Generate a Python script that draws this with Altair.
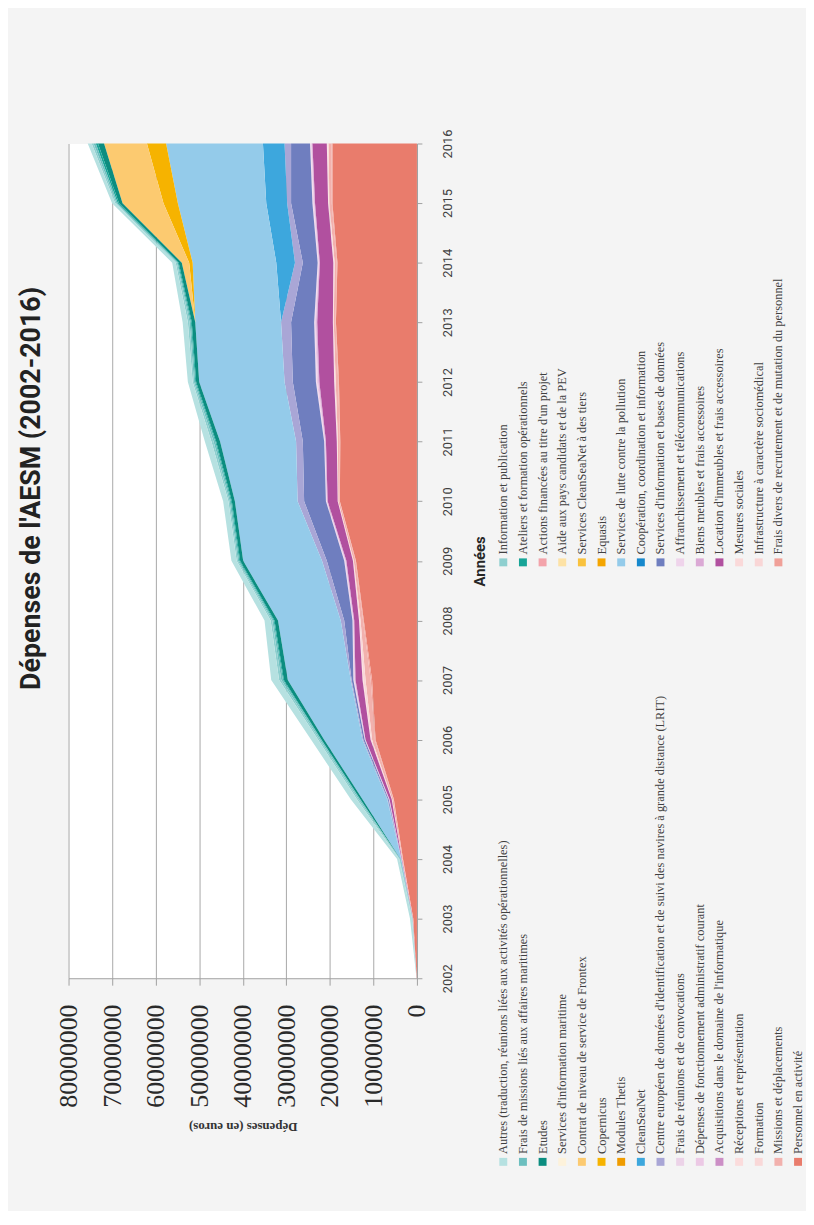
import altair as alt
import pandas as pd

years = list(range(2002, 2017))
xticks = [0, 10000000, 20000000, 30000000, 40000000, 50000000, 60000000, 70000000, 80000000]

# Expenses per heading, millions of euros, 2002..2016
personnel = [0.05, 0.85, 3.2, 5.3, 9.5, 10.3, 12.2, 14.0, 17.7, 17.6, 17.9, 18.6, 18.25, 19.4, 19.4]
frais_divers = [0.005, 0.02, 0.04, 0.08, 0.15, 0.3, 0.15, 0.1, 0.06, 0.1, 0.15, 0.1, 0.15, 0.15, 0.2]
missions = [0.01, 0.06, 0.15, 0.3, 0.65, 1.2, 0.6, 0.4, 0.3, 0.45, 0.6, 0.4, 0.5, 0.55, 0.7]
infrastructure = [0, 0, 0, 0, 0, 0, 0, 0, 0, 0, 0, 0, 0, 0, 0]
formation = [0.005, 0.02, 0.04, 0.08, 0.25, 0.5, 0.25, 0.15, 0.1, 0.15, 0.25, 0.15, 0.2, 0.2, 0.25]
mesures_sociales = [0, 0, 0, 0, 0, 0, 0, 0, 0, 0, 0, 0, 0, 0, 0]
receptions = [0, 0, 0.02, 0.04, 0.1, 0.2, 0.1, 0.05, 0.04, 0.1, 0.1, 0.05, 0.1, 0.1, 0.15]
location = [0.01, 0.05, 0.1, 0.5, 1.15, 1.6, 1.1, 1.5, 2.3, 2.5, 3.4, 3.6, 3.1, 3.0, 3.3]
acquisitions = [0, 0, 0.01, 0.05, 0.05, 0.1, 0.1, 0.1, 0.1, 0.1, 0.15, 0.15, 0.1, 0.1, 0.1]
biens_meubles = [0, 0, 0.01, 0.05, 0.05, 0.1, 0.1, 0.1, 0.1, 0.1, 0.15, 0.15, 0.1, 0.1, 0.1]
depenses_fonct = [0, 0, 0.02, 0.05, 0.05, 0.15, 0.1, 0.15, 0.1, 0.1, 0.25, 0.2, 0.15, 0.2, 0.15]
affranchissement = [0, 0, 0.01, 0.03, 0.03, 0.1, 0.05, 0.1, 0.05, 0.05, 0.15, 0.1, 0.1, 0.1, 0.1]
frais_reunions = [0, 0, 0, 0.02, 0.02, 0.05, 0.05, 0.05, 0.05, 0.05, 0.1, 0.1, 0.05, 0.1, 0.1]
services_info_bd = [0, 0, 0, 0.2, 0.3, 0.4, 1.9, 4.0, 5.0, 4.9, 5.3, 5.3, 3.4, 4.9, 4.35]
lrit = [0, 0, 0, 0.14, 0.2, 0.2, 0.8, 1.1, 1.5, 1.55, 1.9, 2.3, 1.8, 0.9, 1.5]
cooperation = [0, 0, 0, 0, 0, 0, 0, 0, 0, 0, 0, 0, 0, 0, 0]
cleanseanet = [0, 0, 0, 0, 0, 0, 0, 0, 0, 0, 0, 0, 4.3, 4.8, 4.96]
lutte_pollution = [0, 0, 0.2, 5.66, 8.8, 14.45, 14.4, 18.1, 14.4, 17.45, 19.6, 19.7, 19.2, 20.3, 22.24]
thetis = [0, 0, 0, 0, 0, 0, 0, 0, 0, 0, 0, 0, 0, 0, 0]
equasis = [0, 0, 0, 0, 0, 0, 0, 0, 0, 0, 0, 0, 0, 0, 0]
copernicus = [0, 0, 0, 0, 0, 0, 0, 0, 0, 0, 0, 0, 0.8, 3.3, 4.4]
csn_tiers = [0, 0, 0, 0, 0, 0, 0, 0, 0, 0, 0, 0, 0, 0, 0]
frontex = [0, 0, 0, 0, 0, 0, 0, 0, 0, 0, 0, 0, 1.7, 9.4, 9.85]
aide_pays = [0, 0, 0, 0, 0, 0, 0, 0, 0, 0, 0, 0, 0, 0, 0]
info_maritime = [0, 0, 0, 0, 0, 0, 0, 0, 0, 0, 0, 0, 0, 0, 0]
actions_projet = [0, 0, 0, 0, 0, 0, 0, 0, 0, 0, 0, 0, 0, 0, 0]
etudes = [0, 0, 0.05, 0.5, 0.6, 0.9, 0.8, 0.7, 0.7, 0.9, 0.7, 0.8, 0.7, 0.8, 1.4]
ateliers = [0, 0, 0, 0.1, 0.1, 0.2, 0.2, 0.2, 0.2, 0.2, 0.2, 0.2, 0.2, 0.3, 0.5]
frais_missions = [0, 0.05, 0.1, 0.3, 0.3, 0.4, 0.3, 0.3, 0.3, 0.4, 0.3, 0.3, 0.2, 0.3, 0.5]
info_pub = [0, 0.05, 0.11, 0.4, 0.4, 0.5, 0.4, 0.3, 0.3, 0.5, 0.3, 0.4, 0.3, 0.3, 0.45]
autres = [0.02, 0.5, 0.5, 1.4, 1.6, 1.81, 1.4, 1.2, 1.2, 1.5, 1.1, 1.2, 0.8, 0.7, 0.9]

N_AUTRES = "Autres (traduction, réunions liées aux activités opérationnelles)"
N_FMISS = "Frais de missions liés aux affaires maritimes"
N_ETUDES = "Etudes"
N_INFOMAR = "Services d'information maritime"
N_FRONTEX = "Contrat de niveau de service de Frontex"
N_COPER = "Copernicus"
N_THETIS = "Modules Thetis"
N_CSN = "CleanSeaNet"
N_LRIT = "Centre européen de données d'identification et de suivi des navires à grande distance (LRIT)"
N_REUN = "Frais de réunions et de convocations"
N_DEPF = "Dépenses de fonctionnement administratif courant"
N_ACQ = "Acquisitions dans le domaine de l'informatique"
N_RECEP = "Réceptions et représentation"
N_FORM = "Formation"
N_MISS = "Missions et déplacements"
N_PERS = "Personnel en activité"
N_INFOPUB = "Information et publication"
N_ATEL = "Ateliers et formation opérationnels"
N_ACTP = "Actions financées au titre d'un projet"
N_AIDE = "Aide aux pays candidats et de la PEV"
N_CSNT = "Services CleanSeaNet à des tiers"
N_EQUA = "Equasis"
N_LUTTE = "Services de lutte contre la pollution"
N_COOP = "Coopération, coordination et information"
N_SIBD = "Services d'information et bases de données"
N_AFFR = "Affranchissement et télécommunications"
N_BIENS = "Biens meubles et frais accessoires"
N_LOC = "Location d'immeubles et frais accessoires"
N_MESS = "Mesures sociales"
N_INFRA = "Infrastructure à caractère sociomédical"
N_FDIV = "Frais divers de recrutement et de mutation du personnel"

# stack order, from the baseline outwards
series = [
    (N_PERS, personnel, "#e97c6c"),
    (N_FDIV, frais_divers, "#f0a098"),
    (N_MISS, missions, "#f2b1ad"),
    (N_INFRA, infrastructure, "#f9d6d6"),
    (N_FORM, formation, "#f9d8d8"),
    (N_MESS, mesures_sociales, "#fad9d9"),
    (N_RECEP, receptions, "#fbdcdc"),
    (N_LOC, location, "#b1509f"),
    (N_ACQ, acquisitions, "#cc8fc6"),
    (N_BIENS, biens_meubles, "#dba9d5"),
    (N_DEPF, depenses_fonct, "#ecc9e5"),
    (N_AFFR, affranchissement, "#efd4eb"),
    (N_REUN, frais_reunions, "#ecd3e8"),
    (N_SIBD, services_info_bd, "#6f7ebf"),
    (N_LRIT, lrit, "#a9a6d6"),
    (N_COOP, cooperation, "#1688cc"),
    (N_CSN, cleanseanet, "#3da7dd"),
    (N_LUTTE, lutte_pollution, "#94cbea"),
    (N_THETIS, thetis, "#ef9c00"),
    (N_EQUA, equasis, "#f4a500"),
    (N_COPER, copernicus, "#f6b300"),
    (N_CSNT, csn_tiers, "#f9c23d"),
    (N_FRONTEX, frontex, "#fcca70"),
    (N_AIDE, aide_pays, "#fde2a5"),
    (N_INFOMAR, info_maritime, "#fdf2db"),
    (N_ACTP, actions_projet, "#f3a3aa"),
    (N_ETUDES, etudes, "#0b8d80"),
    (N_ATEL, ateliers, "#17a497"),
    (N_FMISS, frais_missions, "#6cbfbf"),
    (N_INFOPUB, info_pub, "#8ecfcf"),
    (N_AUTRES, autres, "#b6e1e1"),
]

legend_col_bas = [N_AUTRES, N_FMISS, N_ETUDES, N_INFOMAR, N_FRONTEX, N_COPER, N_THETIS, N_CSN,
                  N_LRIT, N_REUN, N_DEPF, N_ACQ, N_RECEP, N_FORM, N_MISS, N_PERS]
legend_col_haut = [N_INFOPUB, N_ATEL, N_ACTP, N_AIDE, N_CSNT, N_EQUA, N_LUTTE, N_COOP, N_SIBD,
                   N_AFFR, N_BIENS, N_LOC, N_MESS, N_INFRA, N_FDIV]

rows = []
for k, (name, vals, col) in enumerate(series):
    for yr, v in zip(years, vals):
        rows.append({"annee": yr, "serie": name, "valeur": v * 1e6, "ordre": k})
df = pd.DataFrame(rows)

leg_rows = []
for i, n in enumerate(legend_col_haut):
    leg_rows.append({"serie": n, "pos": i, "rang": 0})
for i, n in enumerate(legend_col_bas):
    leg_rows.append({"serie": n, "pos": i, "rang": 1})
leg = pd.DataFrame(leg_rows)

names = [s[0] for s in series]
colors = [s[2] for s in series]
color_scale = alt.Scale(domain=names, range=colors)

COND = "Roboto, Liberation Sans Narrow, sans-serif"
SERIF = "Liberation Serif, Times New Roman, serif"

area = alt.Chart(df).mark_area(orient="horizontal", interpolate="linear").encode(
    x=alt.X(
        "valeur:Q", stack="zero",
        scale=alt.Scale(domain=[0, 80000000], reverse=True, nice=False),
        axis=alt.Axis(
            values=xticks, format="d", labelAngle=270, labelAlign="right", labelBaseline="middle",
            labelFont=SERIF, labelFontSize=26, labelColor="#2a2a2a", labelPadding=19,
            labelFlush=False, labelOverlap=False,
            tickSize=7, tickColor="#a0a0a0", domainColor="#a0a0a0",
            grid=True, gridColor="#a8a8a8", gridWidth=1,
            title="Dépenses (en euros)", titleAngle=180, titleFont=SERIF, titleFontSize=13,
            titleFontWeight="bold", titleColor="#333333", titleY=149, titleBaseline="middle",
        ),
    ),
    y=alt.Y(
        "annee:Q",
        scale=alt.Scale(domain=[2002, 2016], nice=False, zero=False),
        axis=alt.Axis(
            orient="right", values=years, format="d", labelAngle=270, labelAlign="center",
            labelBaseline="top", labelFont=COND, labelFontSize=13, labelColor="#404040",
            labelPadding=20, labelFlush=False, labelOverlap=False,
            tickSize=5, tickColor="#a0a0a0", domainColor="#a0a0a0", grid=False,
            title="Années", titleAngle=270, titleX=63, titleBaseline="middle", titleFont=COND,
            titleFontSize=15, titleFontWeight="bold", titleColor="#262626",
        ),
    ),
    color=alt.Color("serie:N", scale=color_scale, legend=None),
    order=alt.Order("ordre:Q", sort="ascending"),
)

leg_x = alt.X("pos:Q", scale=alt.Scale(domain=[0, 15], range=[438, 735]), axis=None)
leg_y = alt.Y("rang:Q", scale=alt.Scale(domain=[0, 1], range=[422, 1026]), axis=None)

squares = alt.Chart(leg).mark_square(size=64, opacity=1).encode(
    x=leg_x, y=leg_y,
    color=alt.Color("serie:N", scale=color_scale, legend=None),
)
labels = alt.Chart(leg).mark_text(
    angle=270, align="left", baseline="middle", dx=8,
    font=SERIF, fontSize=12.5, color="#404040",
).encode(x=leg_x, y=leg_y, text="serie:N")

chart = alt.layer(area, squares, labels).resolve_scale(
    x="independent", y="independent"
).properties(
    width=351,
    height=841,
    autosize=alt.AutoSizeParams(type="none"),
    padding={"left": 61, "top": 132, "right": 392, "bottom": 230},
    title=alt.TitleParams(
        text="Dépenses de l'AESM (2002-2016)", orient="left", anchor="middle",
        font=COND, fontSize=27, fontWeight="bold", color="#222222", offset=10, dx=73,
    ),
).configure(
    background="#f4f4f4",
).configure_view(
    fill="white", stroke="transparent",
)

chart.save("out.html", embed_options={"renderer": "svg", "actions": False})
